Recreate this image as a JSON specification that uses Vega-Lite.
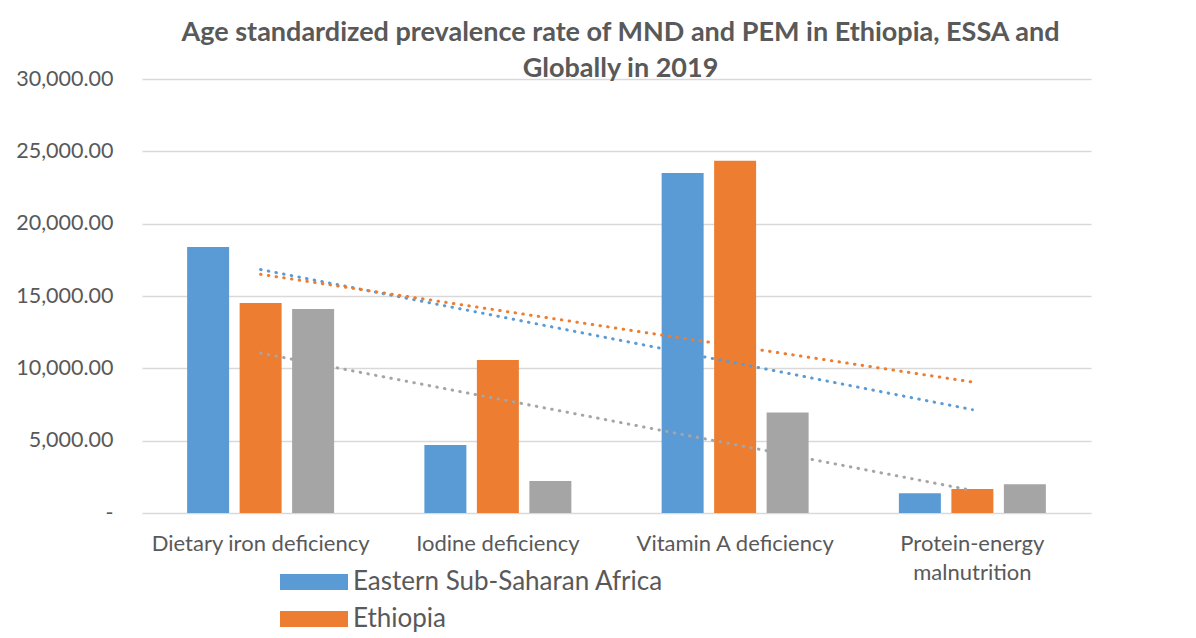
{
  "$schema": "https://vega.github.io/schema/vega-lite/v6.json",
  "width": 949,
  "height": 434,
  "autosize": {"type": "none"},
  "padding": {"left": 142, "top": 79, "right": 105, "bottom": 125},
  "background": "white",
  "config": {
    "font": "Lato",
    "view": {"stroke": null},
    "axis": {"labelColor": "#595959", "labelFont": "Lato", "gridColor": "#D9D9D9", "gridWidth": 1.3, "domain": false, "ticks": false}
  },
  "title": {
    "text": ["Age standardized prevalence rate of MND and PEM in Ethiopia, ESSA and", "Globally in 2019"],
    "fontSize": 27,
    "fontWeight": "bold",
    "color": "#595959",
    "font": "Lato",
    "anchor": "middle",
    "lineHeight": 36,
    "offset": -15,
    "dx": 4
  },
  "data": {
    "values": [
      {"category": "Dietary iron deficiency", "series": "Eastern Sub-Saharan Africa", "value": 18390},
      {"category": "Dietary iron deficiency", "series": "Ethiopia", "value": 14520},
      {"category": "Dietary iron deficiency", "series": "Global", "value": 14100},
      {"category": "Iodine deficiency", "series": "Eastern Sub-Saharan Africa", "value": 4700},
      {"category": "Iodine deficiency", "series": "Ethiopia", "value": 10580},
      {"category": "Iodine deficiency", "series": "Global", "value": 2210},
      {"category": "Vitamin A deficiency", "series": "Eastern Sub-Saharan Africa", "value": 23500},
      {"category": "Vitamin A deficiency", "series": "Ethiopia", "value": 24350},
      {"category": "Vitamin A deficiency", "series": "Global", "value": 6940},
      {"category": "Protein-energy malnutrition", "series": "Eastern Sub-Saharan Africa", "value": 1360},
      {"category": "Protein-energy malnutrition", "series": "Ethiopia", "value": 1660},
      {"category": "Protein-energy malnutrition", "series": "Global", "value": 1980}
    ]
  },
  "layer": [
    {
      "mark": {"type": "bar"},
      "encoding": {
        "x": {
          "field": "category", "type": "nominal", "sort": null,
          "scale": {"paddingInner": 0, "paddingOuter": 0},
          "axis": {
            "title": null, "labelAngle": 0, "labelFontSize": 22, "labelPadding": 20, "labelLineHeight": 29,
            "labelBaseline": "top", "grid": false, "labelLimit": 0,
            "labelExpr": "datum.value == 'Protein-energy malnutrition' ? ['Protein-energy', 'malnutrition'] : datum.value"
          }
        },
        "xOffset": {
          "field": "series", "type": "nominal",
          "scale": {"paddingInner": 0.2, "paddingOuter": 0.86}
        },
        "y": {
          "field": "value", "type": "quantitative",
          "scale": {"domain": [0, 30000], "nice": false},
          "axis": {
            "title": null, "values": [0, 5000, 10000, 15000, 20000, 25000, 30000],
            "labelFontSize": 21.5, "labelPadding": 29,
            "labelExpr": "datum.value == 0 ? '-\u00a0\u00a0\u00a0' : format(datum.value, ',.2f')"
          }
        },
        "color": {
          "field": "series", "type": "nominal",
          "scale": {"domain": ["Eastern Sub-Saharan Africa", "Ethiopia", "Global"], "range": ["#5B9BD5", "#ED7D31", "#A5A5A5"]},
          "legend": {
            "title": null, "orient": "none", "legendX": 159, "legendY": 490, "direction": "vertical",
            "padding": 0, "labelFontSize": 26, "labelColor": "#595959", "labelFont": "Lato", "labelLimit": 0,
            "symbolType": "M-4.25,-1H4.25V1H-4.25Z", "symbolSize": 256, "symbolStrokeWidth": 0,
            "symbolOpacity": 1, "labelOffset": 26, "rowPadding": 11
          }
        }
      }
    },
    {
      "transform": [
        {"window": [{"op": "row_number", "as": "idx"}], "groupby": ["series"]},
        {"regression": "value", "on": "idx", "groupby": ["series"], "extent": [1, 4]}
      ],
      "mark": {"type": "line", "strokeWidth": 3, "strokeCap": "round", "strokeDash": [0.5, 7.3]},
      "encoding": {
        "x": {"field": "idx", "type": "quantitative", "scale": {"domain": [0.5, 4.5], "nice": false, "zero": false}, "axis": null},
        "y": {"field": "value", "type": "quantitative"},
        "color": {"field": "series", "type": "nominal"}
      }
    }
  ],
  "resolve": {"scale": {"x": "independent"}}
}
